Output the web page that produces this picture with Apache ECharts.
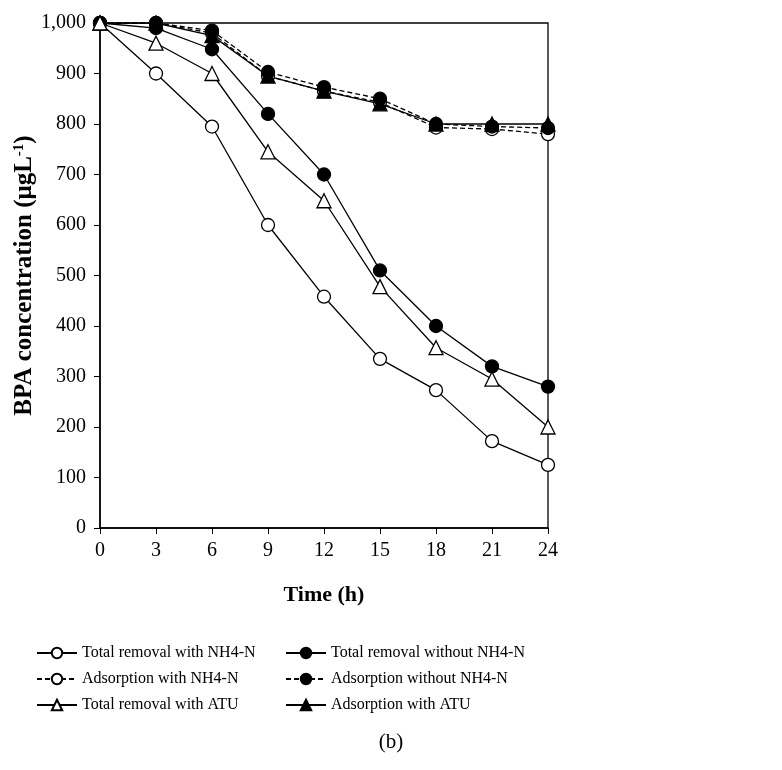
<!DOCTYPE html>
<html>
<head>
<meta charset="utf-8">
<script src="https://cdn.jsdelivr.net/npm/echarts@6/dist/echarts.min.js"></script>
<style>
  html, body { margin: 0; padding: 0; background: #fff; }
  #chart { width: 782px; height: 770px; }
</style>
</head>
<body>
<div id="chart"></div>
<script>
var hours = [0, 3, 6, 9, 12, 15, 18, 21, 24];
var totalWithNH4 = [1000, 900, 795, 600, 458, 335, 273, 172, 125];
var totalWithoutNH4 = [1000, 990, 948, 820, 700, 510, 400, 320, 280];
var adsWithNH4 = [1000, 1000, 980, 895, 865, 843, 793, 790, 780];
var adsWithoutNH4 = [1000, 1000, 985, 903, 873, 850, 800, 795, 792];
var totalWithATU = [1000, 960, 900, 745, 648, 478, 357, 295, 200];
var adsWithATU = [1000, 1000, 975, 895, 865, 840, 800, 800, 800];

function pairs(vals) {
    return hours.map(function (h, i) { return [h, vals[i]]; });
}

function mkSeries(name, vals, symbol, filled, dashed) {
    return {
        name: name,
        type: 'line',
        data: pairs(vals),
        symbol: symbol,
        symbolSize: symbol === 'triangle' ? 14 : 13,
        lineStyle: { color: '#000', width: 1.3, type: dashed ? [5, 3] : 'solid' },
        itemStyle: { color: filled ? '#000' : '#fff', borderColor: '#000', borderWidth: 1.3 },
        emphasis: { disabled: true }
    };
}

var font = '"Liberation Serif", "Times New Roman", serif';
var chart = echarts.init(document.getElementById('chart'));
var option = {
    animation: false,
    textStyle: { fontFamily: font, color: '#000' },
    title: {
        text: '(b)',
        left: 'center',
        top: 727,
        textStyle: { fontFamily: font, fontSize: 21, fontWeight: 'normal', color: '#000' }
    },
    grid: {
        left: 100, top: 23, width: 448, height: 505,
        outerBoundsMode: 'none',
        show: true, borderColor: '#000', borderWidth: 1.3
    },
    legend: [{
        orient: 'vertical',
        left: 31, top: 640,
        itemWidth: 40, itemHeight: 13, itemGap: 10,
        textStyle: { fontFamily: font, fontSize: 16, color: '#000' },
        data: ['Total removal with NH4-N', 'Adsorption with NH4-N', 'Total removal with ATU']
    }, {
        orient: 'vertical',
        left: 280, top: 640,
        itemWidth: 40, itemHeight: 13, itemGap: 10,
        textStyle: { fontFamily: font, fontSize: 16, color: '#000' },
        data: ['Total removal without NH4-N', 'Adsorption without NH4-N', 'Adsorption with ATU']
    }],
    xAxis: {
        type: 'value', min: 0, max: 24, interval: 3,
        name: 'Time (h)', nameLocation: 'middle', nameGap: 56,
        nameMoveOverlap: false,
        nameTextStyle: { fontFamily: font, fontSize: 22, fontWeight: 'bold', color: '#000' },
        axisLine: { lineStyle: { color: '#000', width: 1.5 } },
        axisTick: { inside: false, length: 6, lineStyle: { color: '#000' } },
        axisLabel: { fontFamily: font, fontSize: 20, color: '#000', margin: 13 },
        splitLine: { show: false }
    },
    yAxis: {
        type: 'value', min: 0, max: 1000, interval: 100,
        name: '{a|BPA concentration (μgL}{s|-1}{a|)}',
        nameLocation: 'middle', nameGap: 63,
        nameMoveOverlap: false,
        nameTextStyle: {
            rich: {
                a: { fontFamily: font, fontSize: 25, fontWeight: 'bold', color: '#000' },
                s: { fontFamily: font, fontSize: 15, fontWeight: 'bold', color: '#000', verticalAlign: 'top', padding: [0, 0, 10, 0] }
            }
        },
        axisLine: { show: true, lineStyle: { color: '#000', width: 1.5 } },
        axisTick: { show: true, inside: false, length: 6, lineStyle: { color: '#000' } },
        axisLabel: {
            fontFamily: font, fontSize: 20, color: '#000', margin: 14,
            formatter: function (v) { return v.toLocaleString('en-US'); }
        },
        splitLine: { show: false }
    },
    series: [
        mkSeries('Adsorption with NH4-N', adsWithNH4, 'circle', false, true),
        mkSeries('Adsorption without NH4-N', adsWithoutNH4, 'circle', true, true),
        mkSeries('Adsorption with ATU', adsWithATU, 'triangle', true, false),
        mkSeries('Total removal with NH4-N', totalWithNH4, 'circle', false, false),
        mkSeries('Total removal without NH4-N', totalWithoutNH4, 'circle', true, false),
        mkSeries('Total removal with ATU', totalWithATU, 'triangle', false, false)
    ]
};
chart.setOption(option);
</script>
</body>
</html>
